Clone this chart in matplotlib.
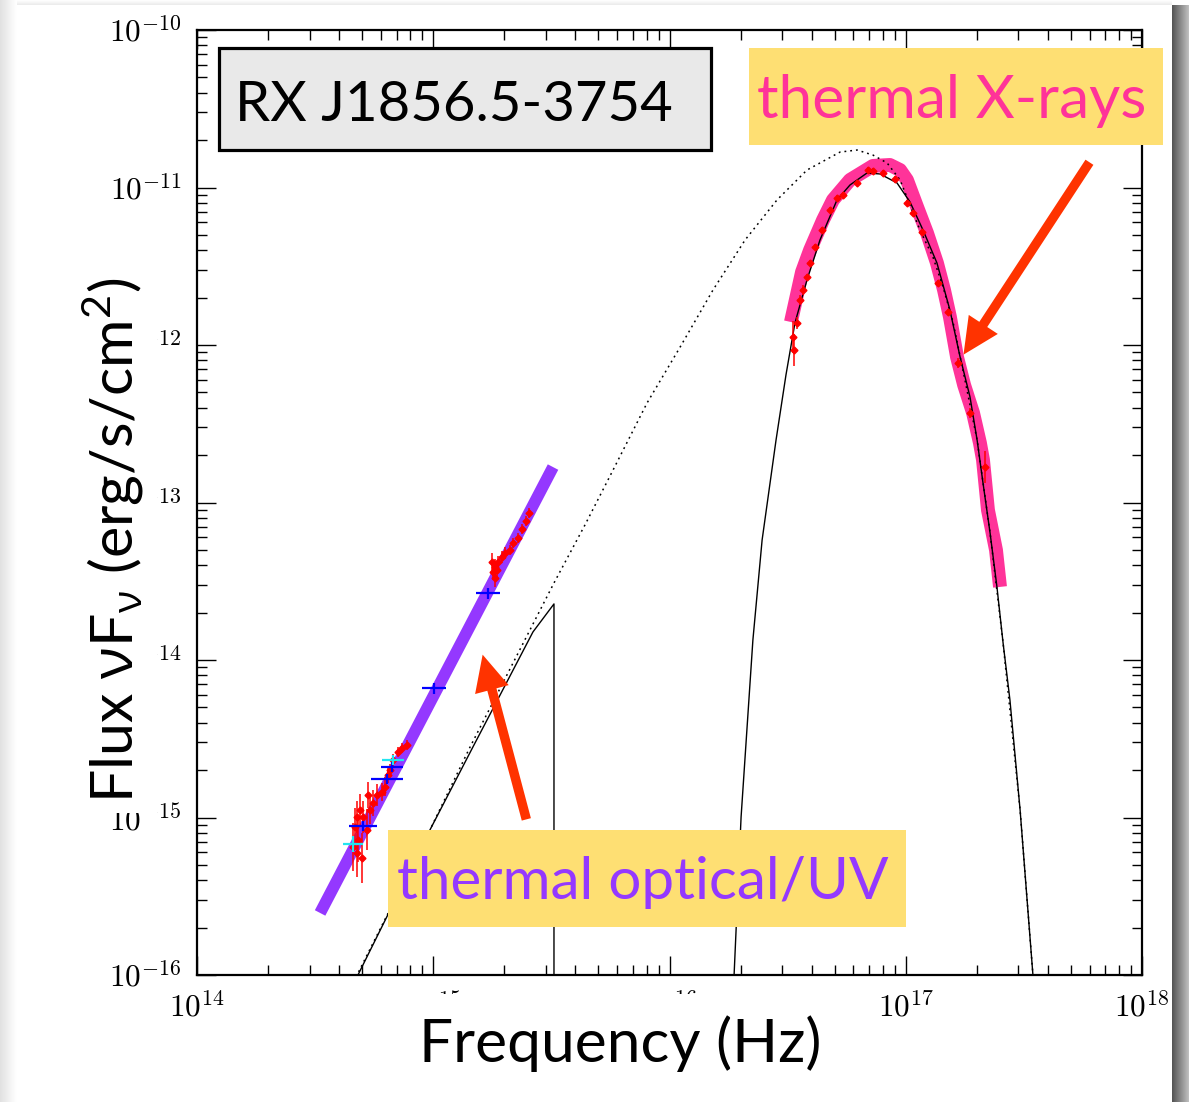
import numpy as np
import matplotlib
matplotlib.use("Agg")
import matplotlib.pyplot as plt
from matplotlib.patches import Rectangle, FancyArrowPatch
from matplotlib.ticker import FixedLocator, FuncFormatter, NullFormatter

plt.rcParams['mathtext.fontset'] = 'cm'
plt.rcParams['mathtext.rm'] = 'Lato'
plt.rcParams['mathtext.it'] = 'Open Sans'
plt.rcParams['mathtext.bf'] = 'Lato:bold'

# ---------------- data (log10 values) ----------------
# X-ray blackbody model (solid)
xray_model_lognu = [16.273, 16.303, 16.353, 16.392, 16.451, 16.493, 16.531, 16.582, 16.637, 16.709,
                    16.764, 16.836, 16.891, 16.963, 17.018, 17.073, 17.132, 17.187, 17.230, 17.272,
                    17.302, 17.327, 17.357, 17.386, 17.412, 17.441, 17.484, 17.539]
xray_model_logf = [-16.013, -14.997, -13.873, -13.238, -12.603, -12.190, -11.860, -11.587, -11.333, -11.079,
                   -10.984, -10.908, -10.914, -10.971, -11.092, -11.270, -11.479, -11.778, -12.076, -12.330,
                   -12.603, -12.876, -13.194, -13.536, -13.892, -14.254, -14.952, -16.013]

# Unabsorbed blackbody (dotted)
bb_dotted_lognu = [14.673, 14.986, 15.156, 15.511, 15.642, 15.761, 15.905, 16.045, 16.184, 16.320,
                   16.455, 16.582, 16.722, 16.794, 16.861, 16.921, 16.976, 17.018, 17.060, 17.115,
                   17.158, 17.200, 17.242, 17.302, 17.357, 17.412, 17.484, 17.539]
bb_dotted_logf = [-16.013, -15.079, -14.552, -13.511, -13.143, -12.794, -12.368, -12.013, -11.651, -11.333,
                  -11.079, -10.889, -10.775, -10.762, -10.794, -10.844, -10.952, -11.111, -11.270, -11.441,
                  -11.632, -11.854, -12.159, -12.603, -13.194, -13.892, -14.952, -16.013]

# Optical model (solid, with cut-off)
opt_model_lognu = [14.677, 14.986, 15.168, 15.283, 15.422, 15.511, 15.511]
opt_model_logf = [-16.013, -15.079, -14.552, -14.222, -13.822, -13.644, -16.013]

# Highlight bands
optuv_band_lognu = [14.521, 15.507]
optuv_band_logf = [-15.606, -12.775]
xband_lognu = [16.514, 16.561, 16.595, 16.650, 16.692, 16.764, 16.861, 16.933, 16.976, 17.005,
               17.048, 17.090, 17.132, 17.162, 17.187, 17.217, 17.247, 17.285, 17.314, 17.327,
               17.348, 17.382, 17.399]
xband_logf = [-11.854, -11.536, -11.397, -11.206, -11.079, -10.952, -10.863, -10.857, -10.889, -10.952,
              -11.124, -11.289, -11.479, -11.651, -11.822, -12.076, -12.254, -12.432, -12.622, -12.730,
              -13.048, -13.302, -13.536]

# X-ray data points
xdata_lognu = [16.523, 16.527, 16.540, 16.552, 16.565, 16.582, 16.595, 16.616, 16.646, 16.679,
               16.709, 16.734, 16.794, 16.840, 16.861, 16.904, 16.955, 17.005, 17.031, 17.069,
               17.137, 17.179, 17.221, 17.272, 17.335]
xdata_logf = [-11.949, -12.032, -11.860, -11.714, -11.651, -11.568, -11.479, -11.378, -11.270, -11.143,
              -11.067, -11.048, -10.971, -10.889, -10.895, -10.908, -10.946, -11.098, -11.162, -11.283,
              -11.606, -11.790, -12.114, -12.432, -12.775]
xdata_logerr = [0.10, 0.10, 0.04, 0.03, 0.03, 0.02, 0.02, 0.02, 0.02, 0.02,
                0.02, 0.02, 0.02, 0.02, 0.02, 0.02, 0.02, 0.02, 0.02, 0.02,
                0.02, 0.02, 0.03, 0.03, 0.10]

# Optical/UV spectroscopic data points
odata_lognu = [14.889, 14.868, 14.851, 14.830, 14.817, 14.808, 14.796, 14.783, 14.762, 14.745,
               14.724, 14.732, 14.703, 14.690, 14.677, 14.669, 14.720, 14.682, 14.660, 14.698,
               14.677,
               15.405, 15.393, 15.376, 15.359, 15.338, 15.325, 15.304, 15.291, 15.274, 15.261,
               15.249, 15.253, 15.270, 15.261]
odata_logf = [-14.540, -14.559, -14.584, -14.635, -14.698, -14.730, -14.806, -14.838, -14.857, -14.908,
              -14.857, -14.952, -14.997, -14.952, -14.997, -15.060, -15.079, -15.143, -15.187, -15.257,
              -15.225,
              -13.067, -13.117, -13.168, -13.225, -13.257, -13.302, -13.321, -13.346, -13.378, -13.410,
              -13.378, -13.441, -13.429, -13.479]
odata_logerr = [0.03, 0.03, 0.03, 0.04, 0.04, 0.05, 0.06, 0.06, 0.07, 0.08,
                0.08, 0.09, 0.10, 0.10, 0.10, 0.12, 0.13, 0.14, 0.15, 0.16,
                0.15,
                0.03, 0.03, 0.03, 0.03, 0.03, 0.03, 0.04, 0.04, 0.04, 0.05,
                0.06, 0.05, 0.05, 0.06]

# HST photometry (blue) and other photometry (cyan)
hst_lognu = [15.232, 15.003, 14.825, 14.804, 14.703]
hst_logf = [-13.575, -14.178, -14.679, -14.756, -15.054]
hst_logxerr = [0.051, 0.051, 0.045, 0.068, 0.060]
hst_logyerr = [0.035, 0.035, 0.03, 0.03, 0.03]
cyan_lognu = [14.830, 14.660]
cyan_logf = [-14.635, -15.168]
cyan_logxerr = [0.048, 0.042]
cyan_logyerr = [0.03, 0.05]

major_x_exponents = [14, 15, 16, 17, 18]
major_y_exponents = [-16, -15, -14, -13, -12, -11, -10]

# ---------------- figure ----------------
W, H = 1189, 1102
fig = plt.figure(figsize=(W / 100, H / 100), dpi=100)
fig.patch.set_facecolor('white')

def fx(px):
    return px / W

def fy(py):
    return 1 - py / H

ax = fig.add_axes([fx(197), fy(975), fx(1142) - fx(197), fy(30) - fy(975)])
ax.set_xscale('log')
ax.set_yscale('log')
ax.set_xlim(1e14, 1e18)
ax.set_ylim(1e-16, 1e-10)

ax.xaxis.set_major_locator(FixedLocator([10.0 ** e for e in major_x_exponents]))
ax.yaxis.set_major_locator(FixedLocator([10.0 ** e for e in major_y_exponents]))
ax.xaxis.set_minor_locator(FixedLocator([m * 10.0 ** e for e in major_x_exponents[:-1] for m in range(2, 10)]))
ax.yaxis.set_minor_locator(FixedLocator([m * 10.0 ** e for e in major_y_exponents[:-1] for m in range(2, 10)]))
fmt = FuncFormatter(lambda v, p: r"$10^{%d}$" % int(round(np.log10(v))))
ax.xaxis.set_major_formatter(fmt)
ax.yaxis.set_major_formatter(fmt)
ax.xaxis.set_minor_formatter(NullFormatter())
ax.yaxis.set_minor_formatter(NullFormatter())

ax.tick_params(which='both', direction='in', top=True, right=True, width=1.0, colors='black',
               labelsize=22.5)
ax.tick_params(which='major', length=14)
ax.tick_params(which='minor', length=7)
ax.tick_params(axis='x', which='major', pad=12)
ax.tick_params(axis='y', which='major', pad=11)
for s in ax.spines.values():
    s.set_linewidth(1.6)

def L(a):
    return 10.0 ** np.asarray(a, dtype=float)

def logerr(logv, e):
    v = L(logv)
    e = np.asarray(e, dtype=float)
    return np.vstack([v * (1 - 10 ** -e), v * (10 ** e - 1)])

# bands
ax.plot(L(optuv_band_lognu), L(optuv_band_logf), color='#9438FF', lw=8.5,
        solid_capstyle='butt', zorder=2)
ax.plot(L(xband_lognu), L(xband_logf), color='#FF3399', lw=10,
        solid_capstyle='butt', solid_joinstyle='round', zorder=2)

# models
ax.plot(L(bb_dotted_lognu), L(bb_dotted_logf), color='black', lw=1.1,
        ls=(0, (1.2, 2.6)), zorder=3)
ax.plot(L(xray_model_lognu), L(xray_model_logf), color='black', lw=1.0, zorder=3)
ax.plot(L(opt_model_lognu), L(opt_model_logf), color='black', lw=1.0, zorder=3)

# data
ax.errorbar(L(xdata_lognu), L(xdata_logf), yerr=logerr(xdata_logf, xdata_logerr),
            xerr=logerr(xdata_lognu, [0.008] * len(xdata_lognu)),
            fmt='D', ms=3.5, color='#FF0000', elinewidth=1.1, capsize=0, zorder=4)
ax.errorbar(L(odata_lognu), L(odata_logf), yerr=logerr(odata_logf, odata_logerr),
            xerr=logerr(odata_lognu, [0.005] * len(odata_lognu)),
            fmt='D', ms=3.5, color='#FF0000', elinewidth=1.1, capsize=0, zorder=4)
ax.errorbar(L(hst_lognu), L(hst_logf), yerr=logerr(hst_logf, hst_logyerr),
            xerr=logerr(hst_lognu, hst_logxerr),
            fmt='none', ecolor='#0000FF', elinewidth=1.6, capsize=0, zorder=5)
ax.errorbar(L(cyan_lognu), L(cyan_logf), yerr=logerr(cyan_logf, cyan_logyerr),
            xerr=logerr(cyan_lognu, cyan_logxerr),
            fmt='none', ecolor='#22E5F0', elinewidth=1.6, capsize=0, zorder=5)

# arrows
arrow_opt = ((10 ** 15.397, 10 ** -15.029), (10 ** 15.206, 10 ** -13.949))
arrow_x = ((10 ** 17.784, 10 ** -10.825), (10 ** 17.238, 10 ** -12.076))
for (a, b) in (arrow_opt, arrow_x):
    ax.add_patch(FancyArrowPatch(a, b, arrowstyle='simple,head_width=2.5,head_length=2.6,tail_width=0.68',
                                 mutation_scale=10, color='#FF3300', lw=0, zorder=6))

# ---------------- axis labels with white covers ----------------
fig.add_artist(Rectangle((fx(60), fy(813)), fx(157) - fx(60), fy(210) - fy(813),
                         transform=fig.transFigure, facecolor='white', edgecolor='none', zorder=1))
fig.add_artist(Rectangle((fx(300), fy(1095)), fx(860) - fx(300), fy(994) - fy(1095),
                         transform=fig.transFigure, facecolor='white', edgecolor='none', zorder=1))

fig.text(fx(133), fy(540), r"Flux $\nu\mathrm{F}_{\nu}$ (erg/s/cm$^{2}$)", rotation=90,
         rotation_mode='anchor', ha='center', va='baseline', fontsize=42.5, family='Lato',
         math_fontfamily='custom', color='black', zorder=3)
fig.text(fx(620), fy(1062), "Frequency (Hz)", ha='center', va='baseline', fontsize=43.5,
         family='Lato', color='black', zorder=3)

# ---------------- annotation boxes ----------------
fig.add_artist(Rectangle((fx(219), fy(150)), fx(711) - fx(219), fy(48) - fy(150),
                         transform=fig.transFigure, facecolor='#E9E9E9', edgecolor='black',
                         lw=2.3, zorder=5))
fig.text(fx(454), fy(121), "RX J1856.5-3754", ha='center', va='baseline', fontsize=40.5,
         family='Lato', color='black', zorder=6)

fig.add_artist(Rectangle((fx(749), fy(145)), fx(1163) - fx(749), fy(48) - fy(145),
                         transform=fig.transFigure, facecolor='#FEDF73', edgecolor='none', zorder=5))
fig.text(fx(952), fy(118), "thermal X-rays", ha='center', va='baseline', fontsize=43.5,
         family='Lato', color='#FF3399', zorder=6)

fig.add_artist(Rectangle((fx(388), fy(927)), fx(906) - fx(388), fy(830) - fy(927),
                         transform=fig.transFigure, facecolor='#FEDF73', edgecolor='none', zorder=5))
fig.text(fx(643), fy(899), "thermal optical/UV", ha='center', va='baseline', fontsize=42,
         family='Lato', color='#9438FF', zorder=6)

# ---------------- slide shadows ----------------
sax = fig.add_axes([fx(1172), 0, fx(1189) - fx(1172), fy(5)])
sax.imshow(np.linspace(0.33, 0.75, 32)[None, :], cmap='gray', vmin=0, vmax=1, aspect='auto')
sax.axis('off')
lax = fig.add_axes([0, 0, fx(17), 1])
lax.imshow(np.linspace(0.88, 1.0, 32)[None, :], cmap='gray', vmin=0, vmax=1, aspect='auto')
lax.axis('off')
tax = fig.add_axes([fx(17), fy(5), fx(1172) - fx(17), 1 - fy(5)])
tax.imshow(np.linspace(1.0, 0.92, 16)[:, None], cmap='gray', vmin=0, vmax=1, aspect='auto')
tax.axis('off')

fig.savefig('out.png', dpi=100)
